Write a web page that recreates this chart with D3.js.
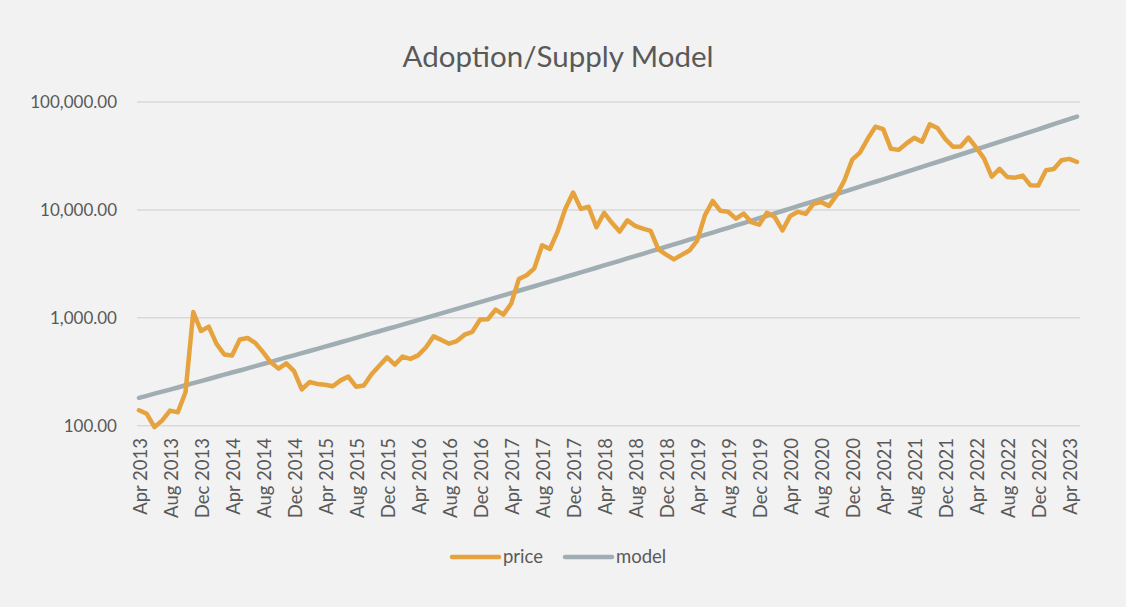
<!DOCTYPE html>
<html>
<head>
<meta charset="utf-8">
<script src="https://cdn.jsdelivr.net/npm/d3@7"></script>
<style>
  html, body { margin: 0; padding: 0; background: #F2F2F2; }
  svg { display: block; }
  text { font-family: Lato, "Open Sans", sans-serif; fill: #595959; }
</style>
</head>
<body>
<svg id="chart" width="1126" height="607"></svg>
<script>
// ---- Data (monthly, Apr 2013 .. May 2023) ----
const months = d3.timeMonth.range(new Date(2013, 3, 1), new Date(2023, 5, 1));

const price = [
  139, 129, 97, 112, 138, 133, 204, 1129, 754, 829, 573, 457,
  448, 630, 650, 586, 481, 387, 338, 378, 320, 217, 254, 244,
  240, 232, 263, 285, 230, 236, 300, 360, 430, 368, 437, 416,
  448, 531, 673, 624, 575, 609, 698, 742, 963, 970, 1190, 1071,
  1348, 2286, 2480, 2875, 4703, 4338, 6300, 10233, 14500, 10221, 10700, 6900,
  9400, 7600, 6300, 8000, 7100, 6700, 6400, 4300, 3850, 3480, 3830, 4200,
  5200, 8900, 12100, 9800, 9600, 8300, 9250, 7700, 7300, 9400, 8600, 6450,
  8800, 9600, 9200, 11400, 11800, 10900, 13700, 18800, 29200, 34000, 45600, 59000,
  56000, 36800, 36000, 41300, 46500, 42800, 62000, 57400, 45500, 38500, 38700, 46800,
  37800, 30000, 20300, 24000, 20200, 19900, 20800, 16900, 16800, 23300, 23900, 28800,
  29700, 27800
];

const model = [
  181, 189, 198, 207, 216, 226, 237, 248, 259, 271, 284, 297,
  311, 325, 340, 356, 373, 391, 409, 429, 449, 470, 492, 516,
  541, 566, 593, 622, 652, 683, 716, 751, 787, 825, 865, 908,
  952, 998, 1047, 1098, 1152, 1209, 1268, 1331, 1397, 1466, 1539, 1615,
  1695, 1780, 1869, 1962, 2061, 2164, 2272, 2387, 2507, 2634, 2768, 2908,
  3056, 3211, 3375, 3547, 3728, 3920, 4121, 4332, 4555, 4791, 5037, 5298,
  5572, 5862, 6167, 6487, 6826, 7182, 7557, 7954, 8373, 8815, 9279, 9768,
  10285, 10830, 11404, 12009, 12647, 13322, 14036, 14785, 15578, 16414, 17297, 18228,
  19209, 20247, 21339, 22494, 23714, 25003, 26363, 27797, 29321, 30926, 32618, 34409,
  36295, 38297, 40404, 42626, 44987, 47469, 50096, 52892, 55838, 58958, 62248, 65722,
  69407, 73282
];

const xTickLabels = [
  "Apr 2013", "Aug 2013", "Dec 2013", "Apr 2014", "Aug 2014", "Dec 2014",
  "Apr 2015", "Aug 2015", "Dec 2015", "Apr 2016", "Aug 2016", "Dec 2016",
  "Apr 2017", "Aug 2017", "Dec 2017", "Apr 2018", "Aug 2018", "Dec 2018",
  "Apr 2019", "Aug 2019", "Dec 2019", "Apr 2020", "Aug 2020", "Dec 2020",
  "Apr 2021", "Aug 2021", "Dec 2021", "Apr 2022", "Aug 2022", "Dec 2022",
  "Apr 2023"
];
const yTicks = [100, 1000, 10000, 100000];

const seriesNames = ["price", "model"];
const seriesColors = ["#E6A23C", "#A0ADB3"];

// ---- Layout ----
const svg = d3.select("#chart");
const plotLeft = 137, plotRight = 1080;

const x = d3.scaleLinear()
  .domain([0, months.length - 1])
  .range([139, 1077]);

const y = d3.scaleLog()
  .domain([100, 100000])
  .range([425.7, 102]);

// Title
svg.append("text")
  .attr("x", 558)
  .attr("y", 67)
  .attr("text-anchor", "middle")
  .style("font-size", "29.5px")
  .text("Adoption/Supply Model");

// Gridlines
svg.append("g")
  .selectAll("line")
  .data(yTicks)
  .join("line")
  .attr("x1", plotLeft)
  .attr("x2", plotRight)
  .attr("y1", d => y(d))
  .attr("y2", d => y(d))
  .attr("stroke", "#D9D9D9")
  .attr("stroke-width", 1.5);

// Y axis labels
const fmt = d3.format(",.2f");
svg.append("g")
  .selectAll("text")
  .data(yTicks)
  .join("text")
  .attr("x", 117)
  .attr("y", d => y(d))
  .attr("dy", "0.35em")
  .attr("text-anchor", "end")
  .style("font-size", "17px")
  .text(d => fmt(d));

// X axis labels (every 4 months)
svg.append("g")
  .selectAll("text")
  .data(xTickLabels)
  .join("text")
  .attr("transform", (d, k) => `translate(${x(k * 4) + 1.5},438) rotate(-90)`)
  .attr("dy", "0.35em")
  .attr("text-anchor", "end")
  .style("font-size", "18.5px")
  .text(d => d);

// Lines
const line = d3.line()
  .x((d, i) => x(i))
  .y(d => y(d))
  .curve(d3.curveLinear);

svg.append("path")
  .datum(model)
  .attr("d", line)
  .attr("fill", "none")
  .attr("stroke", seriesColors[1])
  .attr("stroke-width", 4.5)
  .attr("stroke-linejoin", "round")
  .attr("stroke-linecap", "round");

svg.append("path")
  .datum(price)
  .attr("d", line)
  .attr("fill", "none")
  .attr("stroke", seriesColors[0])
  .attr("stroke-width", 4.5)
  .attr("stroke-linejoin", "round")
  .attr("stroke-linecap", "round");

// Legend
const legendItems = [
  { name: seriesNames[0], color: seriesColors[0], x0: 452 },
  { name: seriesNames[1], color: seriesColors[1], x0: 565 }
];
const lg = svg.append("g");
legendItems.forEach(it => {
  lg.append("line")
    .attr("x1", it.x0).attr("x2", it.x0 + 47)
    .attr("y1", 557).attr("y2", 557)
    .attr("stroke", it.color)
    .attr("stroke-width", 4.5)
    .attr("stroke-linecap", "round");
  lg.append("text")
    .attr("x", it.x0 + 51)
    .attr("y", 557)
    .attr("dy", "0.35em")
    .style("font-size", "18.5px")
    .text(it.name);
});
</script>
</body>
</html>
